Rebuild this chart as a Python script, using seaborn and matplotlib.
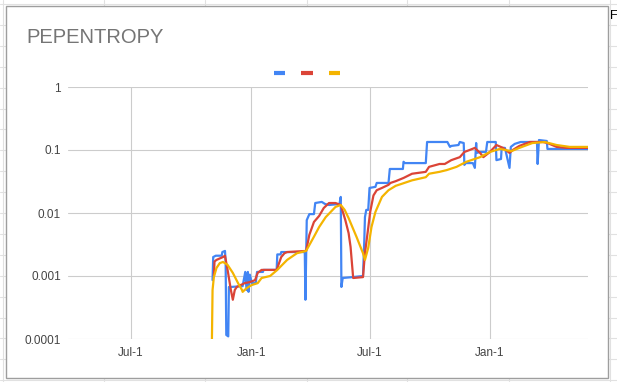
import numpy as np
import pandas as pd
import matplotlib
matplotlib.use("Agg")
import matplotlib.pyplot as plt
import matplotlib.patches as patches
from matplotlib.lines import Line2D
import seaborn as sns

# ---- data ----
blue_dates = ['2020-11-03', '2020-11-04', '2020-11-08', '2020-11-17', '2020-11-18', '2020-11-22',
              '2020-11-23', '2020-11-24', '2020-11-27', '2020-11-28', '2020-12-01', '2020-12-19',
              '2020-12-23', '2020-12-25', '2020-12-27', '2020-12-28', '2020-12-30', '2021-01-02',
              '2021-01-08', '2021-01-10', '2021-01-19', '2021-01-20', '2021-02-09', '2021-02-10',
              '2021-02-15', '2021-02-16', '2021-03-24', '2021-03-25', '2021-03-27', '2021-03-29',
              '2021-03-31', '2021-04-07', '2021-04-09', '2021-04-19', '2021-04-24', '2021-04-30',
              '2021-05-16', '2021-05-18', '2021-05-19', '2021-05-21', '2021-06-05', '2021-06-21',
              '2021-06-23', '2021-06-24', '2021-06-26', '2021-06-29', '2021-07-01', '2021-07-10',
              '2021-07-12', '2021-07-30', '2021-08-01', '2021-08-21', '2021-08-22', '2021-08-24',
              '2021-09-25', '2021-09-27', '2021-10-28', '2021-11-01', '2021-11-03', '2021-11-14',
              '2021-11-16', '2021-11-22', '2021-11-23', '2021-11-25', '2021-12-06', '2021-12-09',
              '2021-12-11', '2021-12-12', '2021-12-17', '2021-12-26', '2021-12-28', '2022-01-10',
              '2022-01-11', '2022-01-18', '2022-01-19', '2022-01-24', '2022-01-31', '2022-02-02',
              '2022-02-08', '2022-02-17', '2022-03-14', '2022-03-15', '2022-03-17', '2022-03-29',
              '2022-03-30', '2022-05-31']
blue_vals = [0.00086, 0.002, 0.0021, 0.0021, 0.0024, 0.0025,
             0.0017, 0.000116, 0.00011, 0.00067, 0.00067, 0.00069,
             0.00116, 0.0006, 0.00116, 0.00056, 0.00105, 0.00077,
             0.00077, 0.00116, 0.00116, 0.00125, 0.00125, 0.0022,
             0.0022, 0.0024, 0.0024, 0.00042, 0.0077, 0.0086,
             0.0096, 0.0096, 0.0144, 0.015, 0.0139, 0.0134,
             0.0139, 0.018, 0.00067, 0.00093, 0.00096, 0.001,
             0.0037, 0.0086, 0.0112, 0.0112, 0.025, 0.026,
             0.030, 0.030, 0.050, 0.050, 0.065, 0.062,
             0.062, 0.134, 0.134, 0.112, 0.116, 0.12,
             0.134, 0.129, 0.058, 0.062, 0.062, 0.052,
             0.129, 0.090, 0.093, 0.093, 0.134, 0.134,
             0.069, 0.072, 0.108, 0.108, 0.052, 0.112,
             0.125, 0.134, 0.134, 0.060, 0.144, 0.139,
             0.104, 0.104]

red_dates = ['2020-11-05', '2020-11-06', '2020-11-09', '2020-11-14', '2020-11-19', '2020-11-22',
             '2020-11-26', '2020-12-01', '2020-12-04', '2020-12-07', '2020-12-10', '2020-12-22',
             '2020-12-30', '2021-01-07', '2021-01-11', '2021-01-17', '2021-02-09', '2021-02-16',
             '2021-02-21', '2021-02-25', '2021-03-26', '2021-03-31', '2021-04-07', '2021-04-15',
             '2021-04-22', '2021-04-30', '2021-05-10', '2021-05-18', '2021-05-25', '2021-05-30',
             '2021-06-02', '2021-06-06', '2021-06-21', '2021-06-24', '2021-06-29', '2021-07-02',
             '2021-07-07', '2021-07-12', '2021-07-20', '2021-07-30', '2021-08-02', '2021-08-10',
             '2021-08-22', '2021-09-04', '2021-09-25', '2021-09-30', '2021-10-16', '2021-10-24',
             '2021-11-03', '2021-11-16', '2021-11-23', '2021-12-01', '2021-12-09', '2021-12-17',
             '2021-12-22', '2022-01-01', '2022-01-11', '2022-01-21', '2022-01-31', '2022-02-05',
             '2022-02-15', '2022-03-03', '2022-03-23', '2022-03-30', '2022-04-13', '2022-04-28',
             '2022-05-31']
red_vals = [0.001, 0.0017, 0.0018, 0.0019, 0.002, 0.0021,
            0.00125, 0.0006, 0.00042, 0.0006, 0.00067, 0.00077,
            0.0008, 0.00086, 0.00112, 0.00125, 0.00125, 0.002,
            0.0023, 0.0024, 0.0025, 0.0045, 0.0072, 0.009,
            0.012, 0.0144, 0.0144, 0.0134, 0.0077, 0.0048,
            0.0029, 0.00093, 0.00096, 0.0023, 0.0058, 0.0104,
            0.019, 0.023, 0.025, 0.028, 0.030, 0.032,
            0.036, 0.042, 0.045, 0.054, 0.060, 0.060,
            0.069, 0.077, 0.093, 0.100, 0.108, 0.090,
            0.077, 0.093, 0.120, 0.108, 0.090, 0.100,
            0.116, 0.134, 0.134, 0.129, 0.112, 0.108,
            0.108]

yellow_dates = ['2020-11-02', '2020-11-03', '2020-11-05', '2020-11-09', '2020-11-14', '2020-11-19',
                '2020-11-26', '2020-12-04', '2020-12-12', '2020-12-18', '2020-12-19', '2020-12-25',
                '2021-01-02', '2021-01-11', '2021-01-17', '2021-01-30', '2021-02-10', '2021-02-25',
                '2021-03-12', '2021-03-26', '2021-04-07', '2021-04-15', '2021-04-25', '2021-05-10',
                '2021-05-18', '2021-05-24', '2021-05-30', '2021-06-11', '2021-06-21', '2021-06-24',
                '2021-06-29', '2021-07-04', '2021-07-10', '2021-07-20', '2021-07-30', '2021-08-10',
                '2021-08-19', '2021-09-04', '2021-09-25', '2021-09-30', '2021-10-16', '2021-10-27',
                '2021-11-11', '2021-11-26', '2021-12-17', '2022-01-01', '2022-01-16', '2022-02-03',
                '2022-02-15', '2022-03-07', '2022-03-26', '2022-04-13', '2022-05-03', '2022-05-31']
yellow_vals = [0.00009, 0.0006, 0.00096, 0.00134, 0.0016, 0.00167,
               0.0015, 0.00112, 0.00077, 0.0006, 0.00056, 0.00064,
               0.00072, 0.00077, 0.00093, 0.001, 0.00125, 0.0018,
               0.0023, 0.0025, 0.0042, 0.006, 0.0086, 0.0125,
               0.0134, 0.0112, 0.0083, 0.0042, 0.0023, 0.0018,
               0.0028, 0.006, 0.0104, 0.018, 0.023, 0.027,
               0.029, 0.033, 0.037, 0.042, 0.045, 0.048,
               0.054, 0.065, 0.077, 0.093, 0.104, 0.096,
               0.108, 0.129, 0.134, 0.12, 0.112, 0.112]

series_names = ['s1', 's2', 's3']
colors = ['#4285F4', '#DB4437', '#F4B400']
tick_dates = ['2020-07-01', '2021-01-01', '2021-07-01', '2022-01-01']
tick_labels = ['Jul-1', 'Jan-1', 'Jul-1', 'Jan-1']
y_ticks = [0.0001, 0.001, 0.01, 0.1, 1]
y_labels = ['0.0001', '0.001', '0.01', '0.1', '1']

frames = []
for name, d, v in zip(series_names, [blue_dates, red_dates, yellow_dates],
                      [blue_vals, red_vals, yellow_vals]):
    frames.append(pd.DataFrame({'date': pd.to_datetime(d), 'value': v, 'series': name}))
df = pd.concat(frames, ignore_index=True)

sns.set_style('white')
plt.rcParams['font.family'] = ['Liberation Sans', 'DejaVu Sans']

fig = plt.figure(figsize=(6.17, 3.82), dpi=100)

# spreadsheet cells behind the chart
bg = fig.add_axes([0, 0, 1, 1], zorder=0)
bg.set_xlim(0, 617)
bg.set_ylim(382, 0)
bg.axis('off')
for yy in np.arange(4, 382, 20.9):
    bg.axhline(yy, color='#e1e1e1', lw=0.8, zorder=1)
for xx in [3, 104, 205, 307, 407, 509, 610]:
    bg.axvline(xx, color='#e1e1e1', lw=0.8, zorder=1)
bg.add_patch(patches.Rectangle((6, 6), 602, 372, facecolor='white',
                               edgecolor='#9e9e9e', lw=1, zorder=3))

ax = fig.add_axes([68 / 617, 43 / 382, 520 / 617, 252 / 382], zorder=2)
ax.patch.set_alpha(0)
sns.lineplot(data=df, x='date', y='value', hue='series', hue_order=series_names,
             palette=colors, estimator=None, sort=False, legend=False,
             lw=1.6, ax=ax)
ax.set_yscale('log')
ax.set_ylim(1e-4, 1)
ax.set_xlim(pd.Timestamp('2020-03-27'), pd.Timestamp('2022-05-31'))
ax.set_yticks(y_ticks, labels=y_labels)
ax.minorticks_off()
ax.set_xticks(pd.to_datetime(tick_dates), labels=tick_labels)
ax.tick_params(axis='both', length=0, labelsize=8.5, labelcolor='#444444')
ax.tick_params(axis='x', pad=6)
ax.tick_params(axis='y', pad=5)
ax.grid(True, color='#cccccc', lw=0.8)
for s in ax.spines.values():
    s.set_visible(False)
ax.set_xlabel('')
ax.set_ylabel('')

fig.text(26 / 617, 1 - 43 / 382, 'PEPENTROPY', fontsize=14.5, color='#757575',
         ha='left', va='baseline')
fig.text(610 / 617, 1 - 19 / 382, 'F', fontsize=9, color='black', ha='left', va='baseline')

handles = [Line2D([], [], color=c, lw=3, solid_capstyle='butt') for c in colors]
fig.legend(handles, ['', '', ''], loc='center', bbox_to_anchor=(307 / 617, 1 - 74 / 382),
           ncol=3, frameon=False, handlelength=0.8, handletextpad=0, columnspacing=1.2,
           fontsize=10)

plt.savefig('out.png', dpi=100)
